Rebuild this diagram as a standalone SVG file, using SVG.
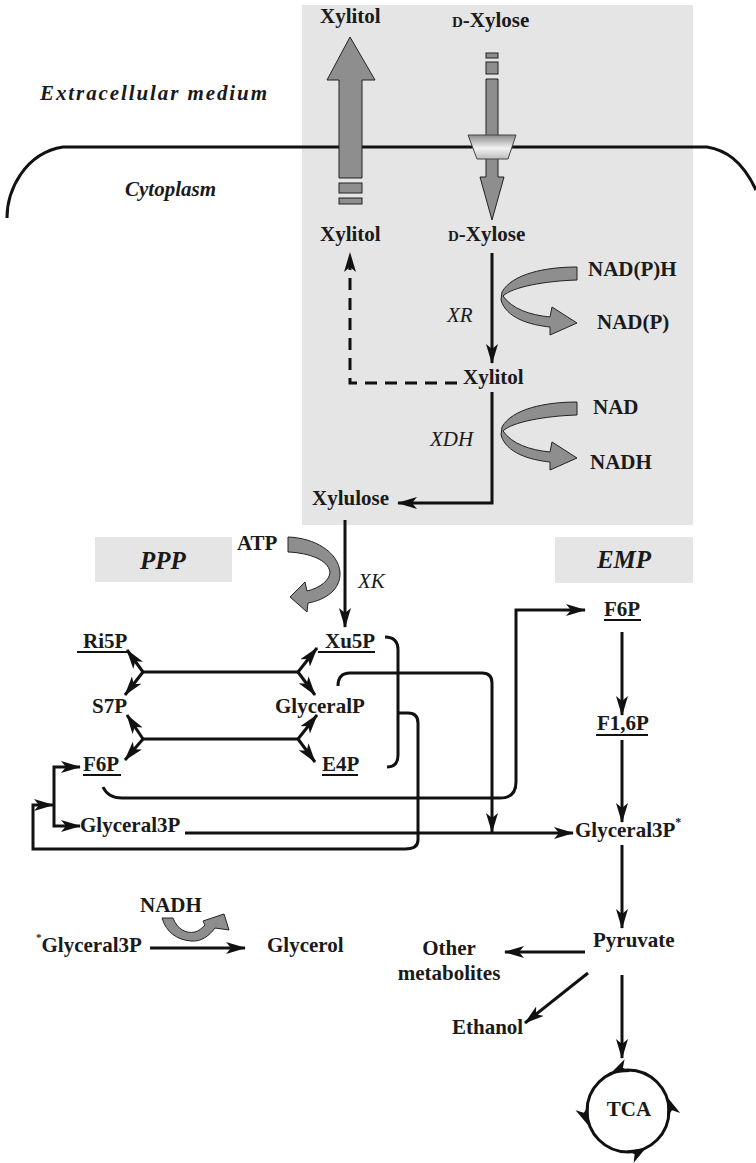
<svg xmlns="http://www.w3.org/2000/svg" width="756" height="1163" viewBox="0 0 756 1163">
<style>
text{font-family:"Liberation Serif","Times New Roman",serif;font-size:21px;font-weight:bold;fill:#1a1a1a}
.it{font-style:italic}
.itn{font-style:italic;font-weight:normal}
.big{font-size:25px;font-style:italic}
.ln{fill:none;stroke:#111;stroke-width:3}
.arr{marker-end:url(#ah)}
.ul{stroke:#111;stroke-width:2}
.gr{fill:#8e8e8e;stroke:#222;stroke-width:1}
</style>
<defs>
<marker id="ah" markerUnits="userSpaceOnUse" markerWidth="20" markerHeight="12" refX="19" refY="6" orient="auto">
<path d="M0,0 L20,6 L0,12 L5,6 Z" fill="#111"/>
</marker>
<path id="hd" d="M0,0 L-18,-7 L-13,0 L-18,7 Z" fill="#111"/>
<linearGradient id="tg" x1="0" y1="0" x2="0" y2="1">
<stop offset="0" stop-color="#8a8a8a"/>
<stop offset="0.55" stop-color="#f2f2f2"/>
<stop offset="1" stop-color="#bdbdbd"/>
</linearGradient>
</defs>
<rect width="756" height="1163" fill="#fff"/>
<rect id="cell-region" x="302" y="5" width="391" height="520" fill="#e5e5e5"/>
<g id="ppp-box"><rect x="95" y="537" width="137" height="45" fill="#e5e5e5"/><text class="big" x="163" y="569" text-anchor="middle">PPP</text></g>
<g id="emp-box"><rect x="555" y="537" width="138" height="46" fill="#e5e5e5"/><text class="big" x="624" y="568" text-anchor="middle">EMP</text></g>
<path id="membrane" d="M7,218 C7,190 25,153 63,147 L707,147 C725,150 742,160 756,190" fill="none" stroke="#111" stroke-width="3"/>
<g id="labels">
<text class="it" x="40" y="100" textLength="227" lengthAdjust="spacing">Extracellular medium</text>
<text class="it" x="125" y="196">Cytoplasm</text>
</g>
<g id="xylitol-export">
<path class="gr" d="M350,37 L375,80 L362,80 L362,178 L339,178 L339,80 L327,80 Z"/>
<rect class="gr" x="339" y="183" width="23" height="10"/>
<rect class="gr" x="339" y="198" width="23" height="6"/>
</g>
<g id="xylose-import">
<rect class="gr" x="486" y="53" width="12" height="5"/>
<rect class="gr" x="486" y="62" width="12" height="12"/>
<path class="gr" d="M486,79 L498,79 L498,177 L504,177 L492,220 L480,177 L486,177 Z"/>
<path d="M468,135 L516,135 L508,159 L477,159 Z" fill="url(#tg)" stroke="#444" stroke-width="1"/>
</g>
<g id="n-xylitol-out"><text x="320" y="23">Xylitol</text></g>
<g id="n-xylose-out"><text x="452" y="27"><tspan font-size="15">D</tspan>-Xylose</text></g>
<g id="n-xylitol-in"><text x="320" y="241">Xylitol</text></g>
<g id="n-xylose-in"><text x="448" y="241"><tspan font-size="15">D</tspan>-Xylose</text></g>
<g id="n-xylitol"><text x="463" y="384">Xylitol</text></g>
<g id="n-xylulose"><text x="312" y="505">Xylulose</text></g>
<g id="n-xu5p"><text x="325" y="648">Xu5P</text><line class="ul" x1="318" y1="652" x2="375" y2="652"/></g>
<g id="n-ri5p"><text x="83" y="648">Ri5P</text><line class="ul" x1="77" y1="652" x2="127" y2="652"/></g>
<g id="n-s7p"><text x="92" y="713">S7P</text></g>
<g id="n-glyceralp"><text x="275" y="713">GlyceralP</text></g>
<g id="n-f6p-l"><text x="83" y="771">F6P</text><line class="ul" x1="83" y1="775" x2="121" y2="775"/></g>
<g id="n-e4p"><text x="322" y="771">E4P</text><line class="ul" x1="322" y1="775" x2="358" y2="775"/></g>
<g id="n-glyceral3p-l"><text x="80" y="832">Glyceral3P</text></g>
<g id="n-f6p-r"><text x="604" y="616">F6P</text><line class="ul" x1="604" y1="620" x2="641" y2="620"/></g>
<g id="n-f16p"><text x="597" y="730">F1,6P</text><line class="ul" x1="596" y1="735" x2="648" y2="735"/></g>
<g id="n-glyceral3p-r"><text x="575" y="837">Glyceral3P<tspan font-size="12" dy="-11">*</tspan></text></g>
<g id="n-pyruvate"><text x="593" y="947">Pyruvate</text></g>
<g id="n-other"><text x="449" y="955" text-anchor="middle">Other</text><text x="449" y="980" text-anchor="middle">metabolites</text></g>
<g id="n-ethanol"><text x="452" y="1034">Ethanol</text></g>
<g id="n-tca"><circle cx="628" cy="1111" r="41" fill="none" stroke="#111" stroke-width="3"/><text x="629" y="1116" text-anchor="middle">TCA</text>
<use href="#hd" transform="translate(611,1073) rotate(156)"/>
<use href="#hd" transform="translate(588,1125) rotate(71)"/>
<use href="#hd" transform="translate(646,1148) rotate(-29)"/>
<use href="#hd" transform="translate(668,1098) rotate(-108)"/>
</g>
<g id="n-glyceral3p-b"><text x="36" y="952"><tspan font-size="11" dy="-11">*</tspan><tspan dy="11">Glyceral3P</tspan></text></g>
<g id="n-glycerol"><text x="267" y="952">Glycerol</text></g>
<g id="cofactors">
<text x="588" y="276">NAD(P)H</text>
<text x="597" y="329">NAD(P)</text>
<text x="593" y="414">NAD</text>
<text x="590" y="469">NADH</text>
<text x="237" y="550">ATP</text>
<text x="140" y="912">NADH</text>
<path class="gr" d="M577,267 C545,267 512,274 502,292 L501,300 C506,318 530,325 550,327 L550,335 L577,323 L552,307 L550,317 C530,315 512,309 503,296 C512,287 545,281 577,280 Z"/>
<path class="gr" transform="translate(0,135)" d="M577,267 C545,267 512,274 502,292 L501,300 C506,318 530,325 550,327 L550,335 L577,323 L552,307 L550,317 C530,315 512,309 503,296 C512,287 545,281 577,280 Z"/>
<path class="gr" d="M288,537 C315,538 338,552 340,572 C341,590 325,600 308,603 L307,612 L290,597 L305,582 L307,591 C320,588 330,580 330,572 C328,560 310,553 288,552 Z"/>
<path class="gr" d="M162,918 L173,918 C177,929 186,934 195,932 C199,931 202,928 205,925 L203,921 L224,914 L229,930 L215,928 C209,936 201,942 191,941 C177,940 166,932 162,918 Z"/>
</g>
<g id="enzymes">
<text class="itn" x="447" y="322">XR</text>
<text class="itn" x="430" y="446">XDH</text>
<text class="itn" x="358" y="588">XK</text>
</g>
<g id="connectors">
<path class="ln arr" d="M492,253 V363"/>
<path class="ln arr" d="M492,392 V503 H398"/>
<path class="ln arr" d="M457,383 H350 V253" stroke-width="4" stroke-dasharray="12,8"/>
<path class="ln arr" d="M345,520 V627"/>
<path class="ln" d="M143,672 H298 M143,739 H298"/>
<path class="ln arr" d="M143,672 L127,650"/>
<path class="ln arr" d="M143,672 L125,695"/>
<path class="ln arr" d="M298,672 L317,648"/>
<path class="ln arr" d="M298,672 L315,695"/>
<path class="ln arr" d="M143,739 L127,715"/>
<path class="ln arr" d="M143,739 L125,760"/>
<path class="ln arr" d="M298,739 L317,715"/>
<path class="ln arr" d="M298,739 L315,762"/>
<path class="ln" d="M385,637 Q398,637 398,650 V755 Q398,767 387,767"/>
<path class="ln arr" d="M398,713 H408 Q418,713 418,723 V840 Q418,849 405,849 H33 V805 H53"/>
<path class="ln arr" d="M54,803 V767 H80"/>
<path class="ln arr" d="M54,803 V826 H80"/>
<path class="ln arr" d="M338,686 Q338,673 350,673 H482 Q492,673 492,683 V832"/>
<path class="ln arr" d="M103,787 Q108,798 122,798 H500 Q516,798 516,782 V610 H585"/>
<path class="ln arr" d="M185,833 H573" stroke-width="4"/>
<path class="ln arr" d="M622,632 V715"/>
<path class="ln arr" d="M622,740 V822"/>
<path class="ln arr" d="M622,845 V928"/>
<path class="ln arr" d="M585,952 H505"/>
<path class="ln arr" d="M588,973 L525,1023"/>
<path class="ln arr" d="M622,975 V1058"/>
<path class="ln arr" d="M150,948 H245" stroke-width="5"/>
</g>
</svg>
